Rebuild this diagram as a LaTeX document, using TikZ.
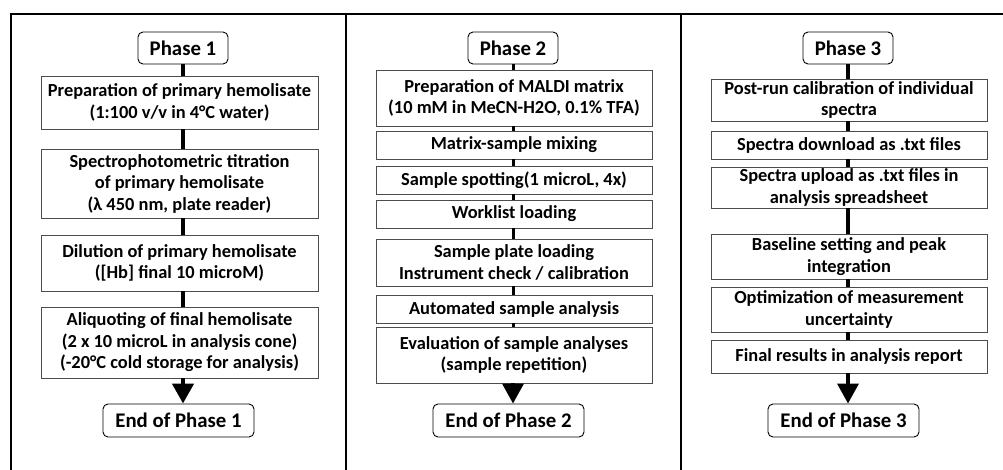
\documentclass[tikz,border=0pt]{standalone}
\usepackage{fontspec}
\setmainfont{Carlito}
\usetikzlibrary{arrows.meta}

% step box given by its corners (x1,y1) and (x2,y2), y growing downwards
\newcommand\flowbox[6]{%
  \node[stepbox, minimum width={#4-#2}, minimum height={#5-#3}]
    (#1) at ({(#2+#4)/2},{(#3+#5)/2}) {#6};}
\newcommand\phasenode[7][phasebox]{%
  \node[#1, minimum width={#5-#3}, minimum height={#6-#4}]
    (#2) at ({(#3+#5)/2},{(#4+#6)/2}) {#7};}

\begin{document}
\begin{tikzpicture}[x=1pt,y=-1pt,
  stepbox/.style={draw=black!70, line width=0.9pt, fill=white, align=center,
    inner sep=0pt, font=\fontsize{18.4}{21.5}\selectfont\bfseries},
  phasebox/.style={draw=black, line width=0.9pt, rounded corners=5pt, fill=white,
    align=center, inner sep=0pt, font=\fontsize{20.8}{24}\selectfont\bfseries},
  frameline/.style={line width=2.6pt, line cap=rect},
  link/.style={line width=#1},
  lastlink/.style={line width=#1, -{Triangle[length=20pt,width=21pt]}}
]
\useasboundingbox (0,0) rectangle (1003,470);

% outer frame and column separators
\draw[frameline] (11,470) -- (11,14) -- (1003,14);
\draw[frameline] (346,14) -- (346,470);
\draw[frameline] (681,14) -- (681,470);

% ---------------- Phase 1 ----------------
\phasenode{p1}{138}{32}{228}{64}{Phase 1}
\flowbox{a1}{41}{76}{318}{129}{Preparation of primary hemolisate\\(1:100 v/v in 4°C water)}
\flowbox{a2}{41}{149}{318}{218}{Spectrophotometric titration\\of primary hemolisate\\(λ 450 nm, plate reader)}
\flowbox{a3}{41}{235}{318}{291}{Dilution of primary hemolisate\\([Hb] final 10 microM)}
\flowbox{a4}{41}{307}{318}{378}{Aliquoting of final hemolisate\\(2 x 10 microL in analysis cone)\\(-20°C cold storage for analysis)}
\phasenode{e1}{103}{404}{254}{437}{End of Phase 1}

\draw[link=4.5pt] (p1.south) -- (p1 |- a1.north);
\foreach \u/\v in {a1/a2, a2/a3, a3/a4}
  \draw[link=4.5pt] (p1 |- \u.south) -- (p1 |- \v.north);
\draw[lastlink=4.5pt] (p1 |- a4.south) -- (p1 |- e1.north);

% ---------------- Phase 2 ----------------
\phasenode{p2}{468}{32}{558}{64}{Phase 2}
\flowbox{b1}{376}{70}{652}{126}{Preparation of MALDI matrix\\(10 mM in MeCN-H2O, 0.1\% TFA)}
\flowbox{b2}{376}{131}{652}{159}{Matrix-sample mixing}
\flowbox{b3}{376}{166}{652}{194}{Sample spotting(1 microL, 4x)}
\flowbox{b4}{376}{200}{652}{228}{Worklist loading}
\flowbox{b5}{376}{239}{652}{286}{Sample plate loading\\Instrument check / calibration}
\flowbox{b6}{376}{295}{652}{323}{Automated sample analysis}
\flowbox{b7}{376}{327}{652}{383}{Evaluation of sample analyses\\(sample repetition)}
\phasenode{e2}{433}{404}{584}{437}{End of Phase 2}

\draw[link=3pt] (p2.south) -- (p2 |- b1.north);
\foreach \u/\v in {b1/b2, b2/b3, b3/b4, b4/b5, b5/b6, b6/b7}
  \draw[link=3pt] (p2 |- \u.south) -- (p2 |- \v.north);
\draw[lastlink=3.5pt] (p2 |- b7.south) -- (p2 |- e2.north);

% ---------------- Phase 3 ----------------
\phasenode{p3}{803}{32}{893}{64}{Phase 3}
\flowbox{c1}{711}{79}{987}{121}{Post-run calibration of individual\\spectra}
\flowbox{c2}{711}{131}{987}{159}{Spectra download as .txt files}
\flowbox{c3}{711}{167}{987}{208}{Spectra upload as .txt files in\\analysis spreadsheet}
\flowbox{c4}{711}{234}{987}{279}{Baseline setting and peak\\integration}
\flowbox{c5}{711}{287}{987}{332}{Optimization of measurement\\uncertainty}
\flowbox{c6}{711}{340}{987}{373}{Final results in analysis report}
\phasenode{e3}{768}{404}{919}{437}{End of Phase 3}

\draw[link=3.5pt] (p3.south) -- (p3 |- c1.north);
\foreach \u/\v in {c1/c2, c2/c3, c3/c4, c4/c5, c5/c6}
  \draw[link=3.5pt] (p3 |- \u.south) -- (p3 |- \v.north);
\draw[lastlink=3.5pt] (p3 |- c6.south) -- (p3 |- e3.north);
\end{tikzpicture}
\end{document}
